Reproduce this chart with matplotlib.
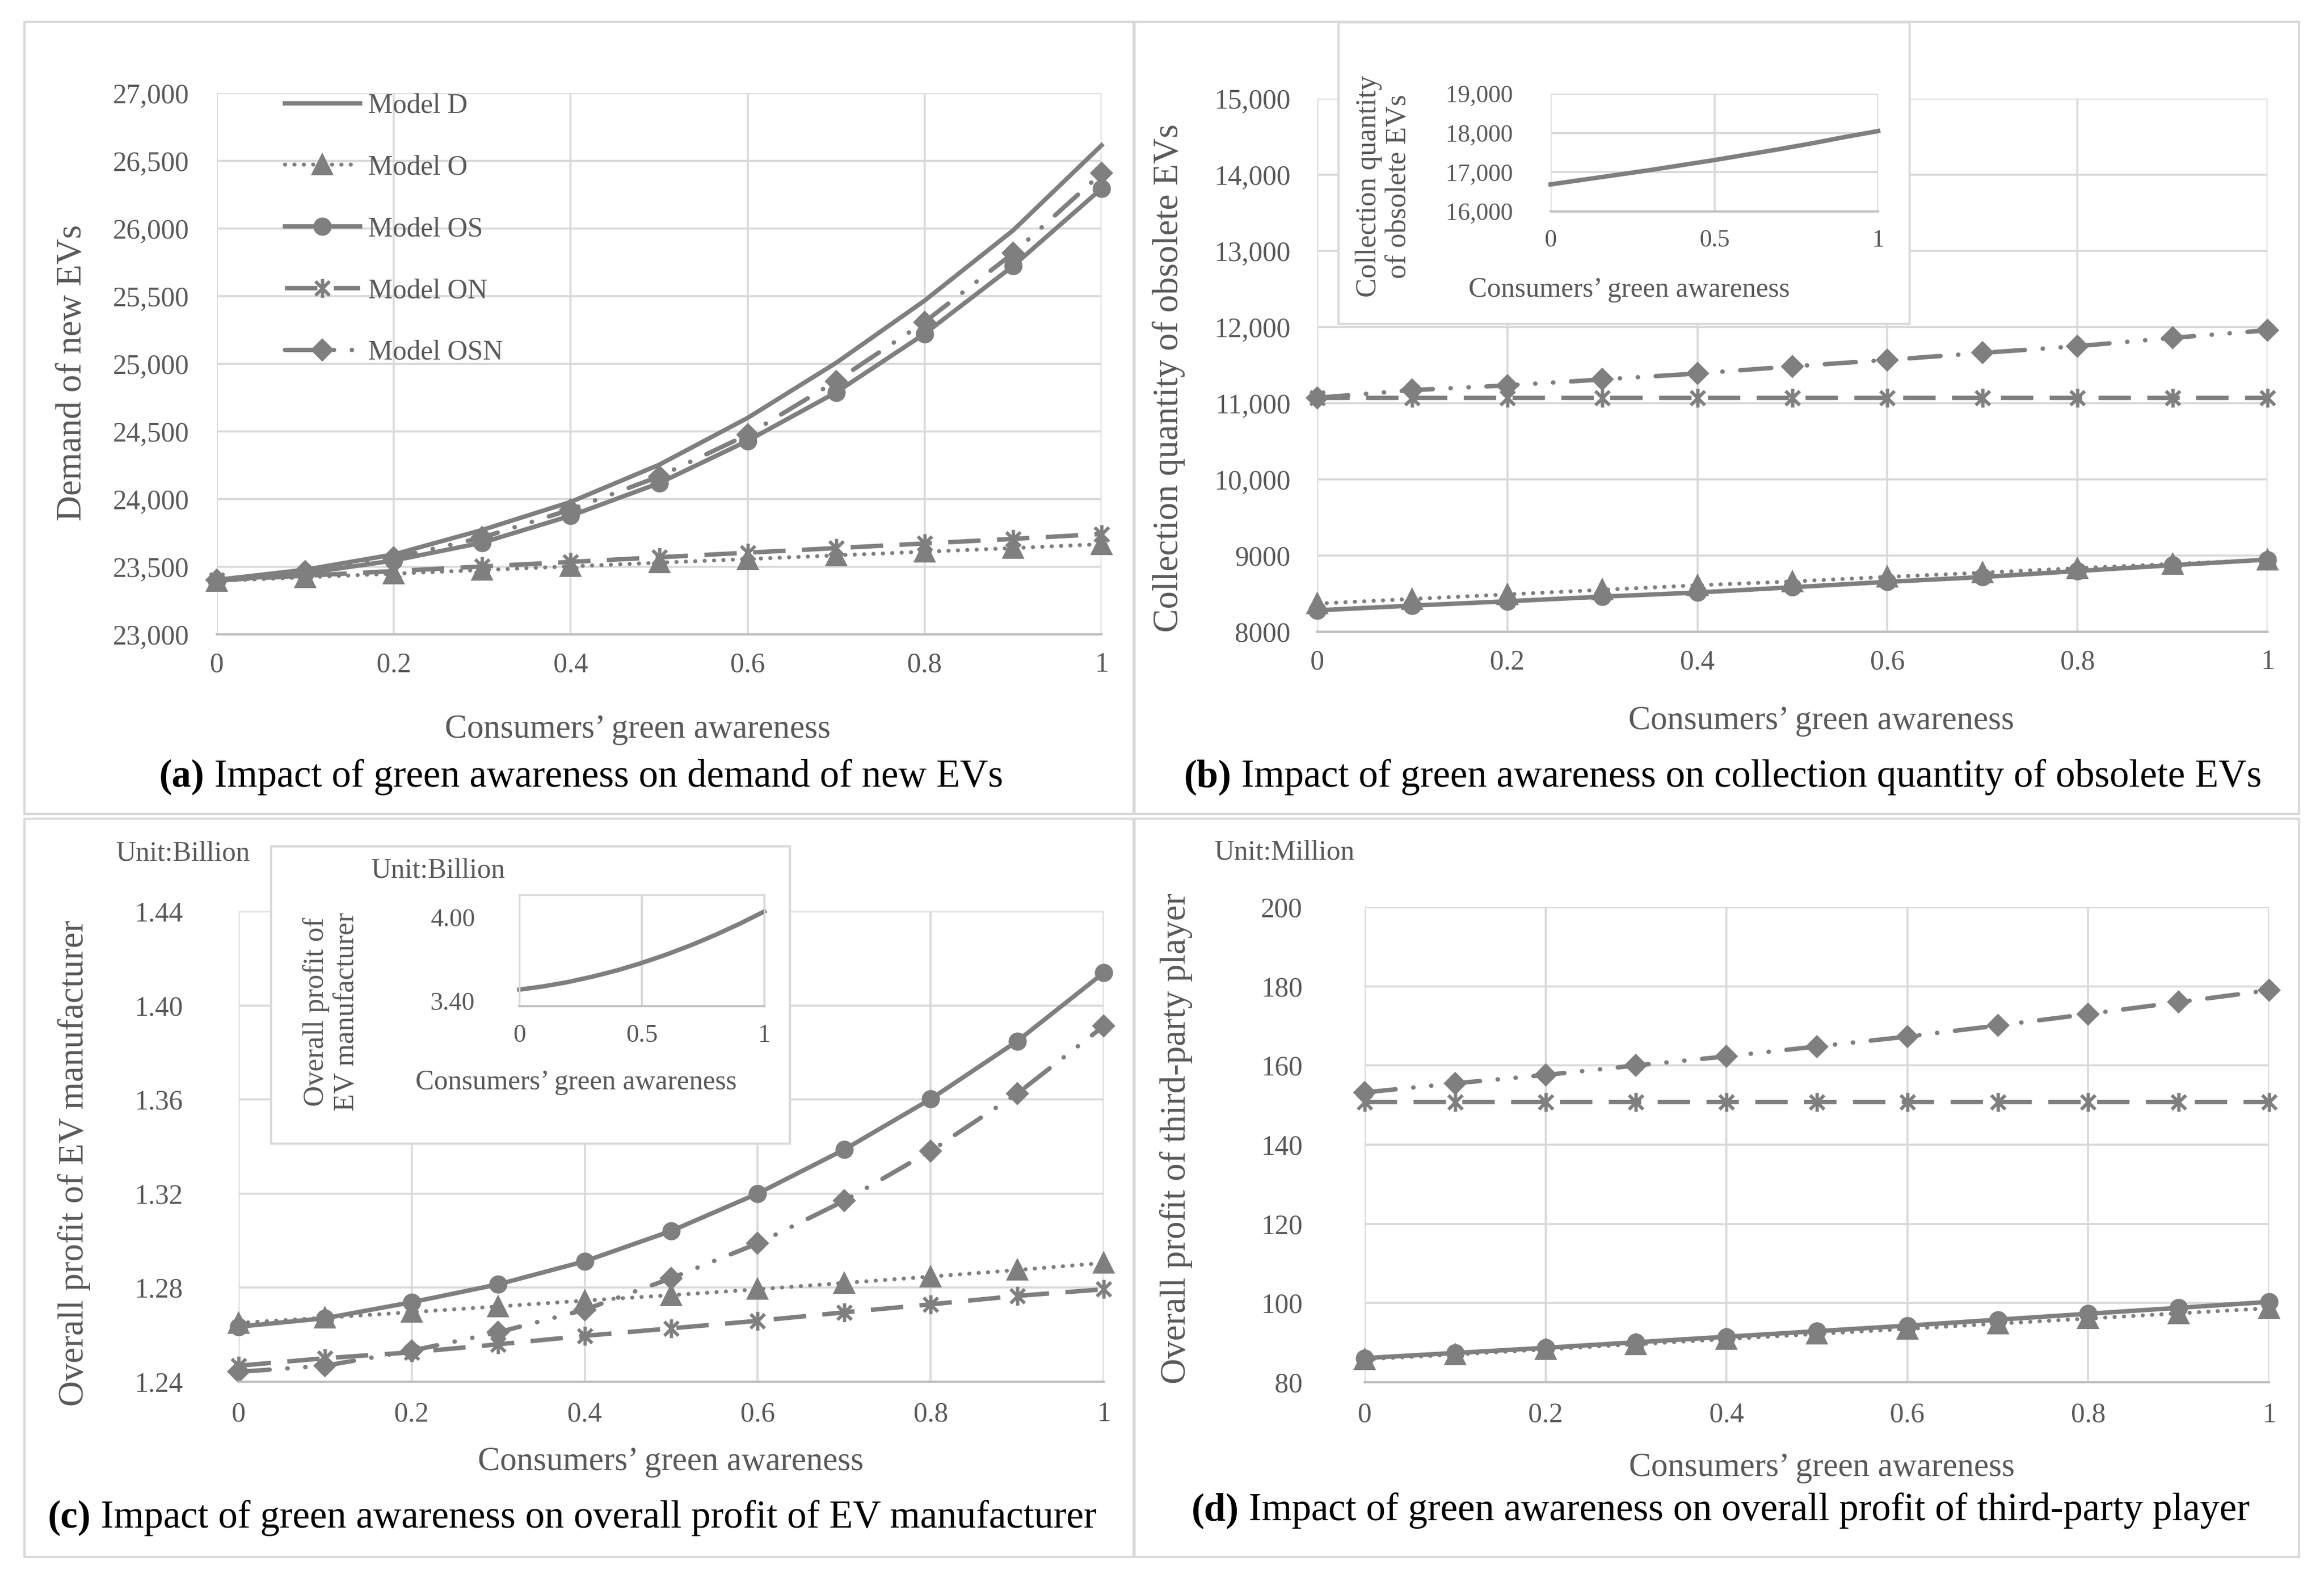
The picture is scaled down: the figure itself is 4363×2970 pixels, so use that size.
import matplotlib
matplotlib.use("Agg")
import matplotlib.pyplot as plt
from matplotlib.path import Path
from matplotlib.patches import Rectangle

plt.rcParams["font.family"] = ["Liberation Serif", "DejaVu Serif"]

W, H = 4363, 2970
GRAY = "#7f7f7f"
TXT = "#595959"
GRID = "#d9d9d9"

# ---- data ----
awareness = [0, 0.1, 0.2, 0.3, 0.4, 0.5, 0.6, 0.7, 0.8, 0.9, 1.0]
x_ticks = [0, 0.2, 0.4, 0.6, 0.8, 1.0]
x_labels = ["0", "0.2", "0.4", "0.6", "0.8", "1"]
inset_x_ticks = [0, 0.5, 1.0]
inset_x_labels = ["0", "0.5", "1"]

# (a) demand of new EVs
demand_D = [23403, 23478, 23591, 23772, 23979, 24254, 24600, 25007, 25467, 25986, 26615]
demand_O = [23395, 23422, 23449, 23476, 23503, 23530, 23557, 23584, 23611, 23638, 23667]
demand_OS = [23395, 23452, 23546, 23678, 23877, 24118, 24431, 24789, 25222, 25723, 26295]
demand_ON = [23400, 23434, 23468, 23502, 23536, 23570, 23604, 23638, 23672, 23706, 23742]
demand_OSN = [23400, 23463, 23565, 23716, 23923, 24167, 24476, 24872, 25309, 25817, 26408]
demand_ticks = [23000, 23500, 24000, 24500, 25000, 25500, 26000, 26500, 27000]
demand_labels = ["23,000", "23,500", "24,000", "24,500", "25,000", "25,500", "26,000", "26,500", "27,000"]

# (b) collection quantity of obsolete EVs
collect_D = [16690, 16810, 16930, 17050, 17180, 17310, 17450, 17590, 17740, 17900, 18050]
collect_O = [8370, 8430, 8490, 8550, 8610, 8660, 8720, 8775, 8835, 8890, 8945]
collect_OS = [8281, 8343, 8400, 8460, 8515, 8584, 8655, 8718, 8797, 8874, 8947]
collect_ON = [11072, 11072, 11072, 11072, 11072, 11072, 11072, 11072, 11072, 11072, 11072]
collect_OSN = [11072, 11172, 11234, 11312, 11390, 11484, 11568, 11661, 11749, 11858, 11958]
collect_ticks = [8000, 9000, 10000, 11000, 12000, 13000, 14000, 15000]
collect_labels = ["8000", "9000", "10,000", "11,000", "12,000", "13,000", "14,000", "15,000"]
collect_inset_ticks = [16000, 17000, 18000, 19000]
collect_inset_labels = ["16,000", "17,000", "18,000", "19,000"]

# (c) overall profit of EV manufacturer (billion)
manuf_D = [3.479, 3.503, 3.534, 3.573, 3.618, 3.671, 3.731, 3.798, 3.872, 3.953, 4.041]
manuf_O = [1.2650, 1.2672, 1.2696, 1.2720, 1.2745, 1.2768, 1.2793, 1.2820, 1.2847, 1.2875, 1.2905]
manuf_OS = [1.2634, 1.2670, 1.2738, 1.2814, 1.2912, 1.3041, 1.3200, 1.3387, 1.3602, 1.3848, 1.4139]
manuf_ON = [1.2468, 1.2500, 1.2525, 1.2559, 1.2595, 1.2627, 1.2659, 1.2695, 1.2729, 1.2765, 1.2793]
manuf_OSN = [1.2442, 1.2468, 1.2532, 1.2610, 1.2706, 1.2840, 1.2988, 1.3169, 1.3381, 1.3625, 1.3912]
manuf_ticks = [1.24, 1.28, 1.32, 1.36, 1.40, 1.44]
manuf_labels = ["1.24", "1.28", "1.32", "1.36", "1.40", "1.44"]
manuf_inset_ticks = [3.40, 4.00]
manuf_inset_labels = ["3.40", "4.00"]

# (d) overall profit of third-party player (million)
third_O = [85.8, 87.0, 88.3, 89.6, 90.9, 92.2, 93.5, 94.8, 96.1, 97.4, 98.7]
third_OS = [86.1, 87.4, 88.7, 90.1, 91.5, 92.9, 94.3, 95.8, 97.3, 98.8, 100.3]
third_ON = [150.7, 150.7, 150.7, 150.7, 150.7, 150.7, 150.7, 150.7, 150.7, 150.7, 150.7]
third_OSN = [153.2, 155.5, 157.6, 160.0, 162.3, 164.8, 167.3, 170.1, 173.0, 176.0, 179.0]
third_ticks = [80, 100, 120, 140, 160, 180, 200]
third_labels = ["80", "100", "120", "140", "160", "180", "200"]

# ---- styles ----
asterisk = Path([(0, -1), (0, 1), (-0.75, -0.75), (0.75, 0.75), (-0.75, 0.75), (0.75, -0.75)],
                [Path.MOVETO, Path.LINETO] * 3)
STYLE = {
    "Model D": dict(linestyle="-", lw=2.0),
    "Model O": dict(linestyle=(0, (0.05, 2.3)), lw=1.8, dash_capstyle="round", marker="^", ms=8.5),
    "Model OS": dict(linestyle="-", lw=2.0, marker="o", ms=7.2),
    "Model ON": dict(linestyle=(0, (7.3, 3.7)), lw=2.0, marker=asterisk, ms=8.5, mew=1.5),
    "Model OSN": dict(linestyle=(0, (7, 4, 0.05, 4, 0.05, 4)), lw=2.0, dash_capstyle="round",
                      marker="D", ms=6.5),
}

fig = plt.figure(figsize=(W / 300, H / 300), dpi=300)
fig.patch.set_facecolor("white")


def px_axes(x0, y0, x1, y1, z=0):
    ax = fig.add_axes([x0 / W, 1 - y1 / H, (x1 - x0) / W, (y1 - y0) / H])
    ax.set_zorder(z)
    return ax


def px_text(x, y, s, **kw):
    kw.setdefault("color", TXT)
    kw.setdefault("zorder", 6)
    return fig.text(x / W, 1 - y / H, s, **kw)


def px_box(x0, y0, x1, y1, fill=False, z=0.5):
    fig.add_artist(Rectangle((x0 / W, 1 - y1 / H), (x1 - x0) / W, (y1 - y0) / H,
                             transform=fig.transFigure, facecolor="white" if fill else "none",
                             edgecolor=GRID, lw=1.0, zorder=z))


def dress(ax, xt, xl, yt, yl, ylim, size, xpad, ypad, hgrid=True):
    ax.set_xlim(0, 1)
    ax.set_ylim(*ylim)
    ax.set_xticks(xt, xl)
    ax.set_yticks(yt, yl)
    ax.grid(True, axis="x", color=GRID, lw=0.9)
    if hgrid:
        ax.grid(True, axis="y", color=GRID, lw=0.9)
    ax.set_axisbelow(True)
    for side in ("left", "right", "top"):
        ax.spines[side].set_visible(not hgrid)
        ax.spines[side].set_color(GRID)
    ax.spines["bottom"].set_color("#bfbfbf")
    ax.spines["bottom"].set_linewidth(1.0)
    ax.tick_params(length=0, labelsize=size, labelcolor=TXT)
    ax.tick_params(axis="x", pad=xpad)
    ax.tick_params(axis="y", pad=ypad)


def draw(ax, label, ys):
    return ax.plot(awareness, ys, color=GRAY, mec=GRAY, mfc=GRAY, clip_on=False,
                   label=label, **STYLE[label])[0]


def caption(x, y, tag, rest):
    t = px_text(x, y, tag, fontsize=17.5, fontweight="bold", color="black", va="center")
    bb = t.get_window_extent(fig.canvas.get_renderer())
    fig.text(bb.x1 / W, 1 - y / H, " " + rest, fontsize=17.5, color="black", va="center")


# panel frames
px_box(46, 41, 2128, 1528)
px_box(2130, 41, 4316, 1528)
px_box(46, 1537, 2128, 2923)
px_box(2130, 1537, 4316, 2923)

# ---- (a) ----
ax_a = px_axes(407, 175, 2068, 1191)
dress(ax_a, x_ticks, x_labels, demand_ticks, demand_labels, (23000, 27000), 12.5, 8, 12.5)
for lab, ys in [("Model D", demand_D), ("Model O", demand_O), ("Model OS", demand_OS),
                ("Model ON", demand_ON), ("Model OSN", demand_OSN)]:
    draw(ax_a, lab, ys)
leg = ax_a.legend(loc="upper left", bbox_to_anchor=(0.077, 1.0), frameon=False, fontsize=12.5,
                  handlelength=2.7, handletextpad=0.3, labelspacing=1.3, borderpad=0,
                  borderaxespad=0, numpoints=1)
for t in leg.get_texts():
    t.set_color(TXT)
px_text(135, 700, "Demand of new EVs", rotation=90, fontsize=16, ha="center", va="center")
px_text(1197, 1370, "Consumers\u2019 green awareness", fontsize=15, ha="center", va="center")
caption(299, 1459, "(a)", "Impact of green awareness on demand of new EVs")

# ---- (b) ----
ax_b = px_axes(2473, 185, 4257, 1186)
dress(ax_b, x_ticks, x_labels, collect_ticks, collect_labels, (8000, 15000), 12.5, 8, 12)
for lab, ys in [("Model O", collect_O), ("Model OS", collect_OS),
                ("Model ON", collect_ON), ("Model OSN", collect_OSN)]:
    draw(ax_b, lab, ys)
px_text(2194, 710, "Collection quantity of obsolete EVs", rotation=90, fontsize=16,
        ha="center", va="center")
px_text(3419, 1354, "Consumers\u2019 green awareness", fontsize=15, ha="center", va="center")
caption(2223, 1459, "(b)", "Impact of green awareness on collection quantity of obsolete EVs")

px_box(2513, 42, 3585, 608, fill=True, z=1.5)
ax_bi = px_axes(2911, 176, 3526, 397, z=3)
dress(ax_bi, inset_x_ticks, inset_x_labels, collect_inset_ticks, collect_inset_labels,
      (16000, 19000), 11, 8, 17)
draw(ax_bi, "Model D", collect_D)
px_text(2598, 350, "Collection quantity\nof obsolete EVs", rotation=90, fontsize=13,
        ha="center", va="center", linespacing=1.15)
px_text(3059, 544, "Consumers\u2019 green awareness", fontsize=12.5, ha="center", va="center")

# ---- (c) ----
ax_c = px_axes(448, 1711, 2072, 2594)
dress(ax_c, x_ticks, x_labels, manuf_ticks, manuf_labels, (1.24, 1.44), 12.5, 9, 25)
for lab, ys in [("Model O", manuf_O), ("Model OS", manuf_OS),
                ("Model ON", manuf_ON), ("Model OSN", manuf_OSN)]:
    draw(ax_c, lab, ys)
px_text(218, 1603, "Unit:Billion", fontsize=12.5, ha="left", va="center")
px_text(139, 2184, "Overall profit of EV manufacturer", rotation=90, fontsize=16,
        ha="center", va="center")
px_text(1259, 2745, "Consumers\u2019 green awareness", fontsize=15, ha="center", va="center")
caption(90, 2850, "(c)", "Impact of green awareness on overall profit of EV manufacturer")

px_box(509, 1589, 1483, 2147, fill=True, z=1.5)
ax_ci = px_axes(975, 1680, 1435, 1889, z=3)
dress(ax_ci, inset_x_ticks, inset_x_labels, manuf_inset_ticks, manuf_inset_labels,
      (3.36, 4.16), 11.5, 8, 20, hgrid=False)
draw(ax_ci, "Model D", manuf_D)
px_text(697, 1634, "Unit:Billion", fontsize=12.5, ha="left", va="center")
px_text(622, 1900, "Overall profit of\nEV manufacturer", rotation=90, fontsize=13,
        ha="center", va="center", linespacing=1.15)
px_text(1082, 2032, "Consumers\u2019 green awareness", fontsize=12.5, ha="center", va="center")

# ---- (d) ----
ax_d = px_axes(2562, 1703, 4260, 2595)
dress(ax_d, x_ticks, x_labels, third_ticks, third_labels, (80, 200), 12.5, 9, 28)
for lab, ys in [("Model O", third_O), ("Model OS", third_OS),
                ("Model ON", third_ON), ("Model OSN", third_OSN)]:
    draw(ax_d, lab, ys)
px_text(2280, 1601, "Unit:Million", fontsize=12.5, ha="left", va="center")
px_text(2208, 2137, "Overall profit of third-party player", rotation=90, fontsize=16,
        ha="center", va="center")
px_text(3420, 2756, "Consumers\u2019 green awareness", fontsize=15, ha="center", va="center")
caption(2237, 2836, "(d)", "Impact of green awareness on overall profit of third-party player")

fig.savefig("out.png", dpi=300, facecolor="white")
